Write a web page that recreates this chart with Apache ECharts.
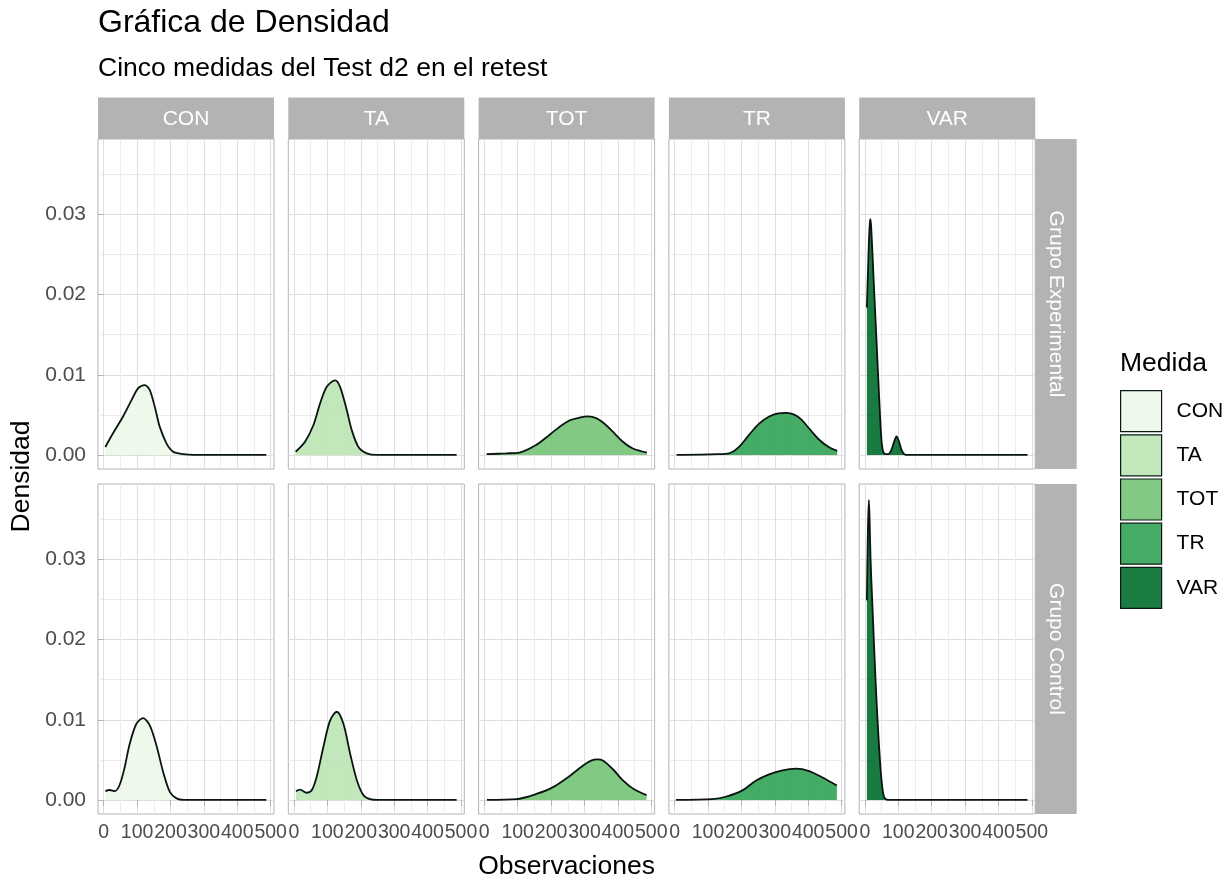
<!DOCTYPE html>
<html>
<head>
<meta charset="utf-8">
<script src="https://cdn.jsdelivr.net/npm/echarts@6/dist/echarts.min.js"></script>
<style>
  html, body { margin: 0; padding: 0; background: #ffffff; }
  #chart { width: 1226px; height: 882px; }
</style>
</head>
<body>
<div id="chart"></div>
<script>
// Facets
const medidas = ['CON', 'TA', 'TOT', 'TR', 'VAR'];
const grupos = ['Grupo Experimental', 'Grupo Control'];

// Axis breaks
const xTicks = [0, 100, 200, 300, 400, 500];
const xMinor = [50, 150, 250, 350, 450];
const yTicks = [0, 0.01, 0.02, 0.03];
const yMinor = [0.005, 0.015, 0.025, 0.035];

// Density estimates, [Observaciones, Densidad]
// Grupo Experimental
const expCON = [[5,0.0010],[28,0.0027],[58,0.0048],[83,0.0068],[103,0.0083],[123,0.0087],[138,0.0081],[153,0.0060],[168,0.0035],[188,0.00145],[208,0.0004],[238,0.0001],[270,0],[380,0],[487,0]];
const expTA  = [[5,0.0004],[33,0.00165],[58,0.0037],[78,0.0064],[98,0.0085],[123,0.0093],[138,0.0085],[158,0.0056],[173,0.0031],[193,0.0010],[218,0.0002],[248,0],[370,0],[487,0]];
const expTOT = [[7,0.0001],[65,0.0002],[105,0.0003],[155,0.00124],[195,0.0025],[225,0.0035],[255,0.0043],[285,0.00465],[310,0.0048],[335,0.0046],[360,0.0039],[385,0.0029],[415,0.00165],[445,0.0008],[487,0.0003]];
const expTR  = [[6,0],[128,0.0001],[163,0.0002],[193,0.0010],[223,0.0025],[253,0.0039],[283,0.0048],[310,0.0052],[335,0.00525],[360,0.0050],[380,0.0044],[403,0.0033],[433,0.0019],[463,0.00095],[487,0.0005]];
const expVAR = [[6,0.0184],[9,0.0225],[12,0.0265],[15,0.0290],[17,0.0294],[20,0.0275],[25,0.0230],[30,0.0185],[35,0.0141],[40,0.0096],[45,0.0052],[50,0.0017],[55,0.0004],[62,0.0001],[70,0.0001],[80,0.0007],[88,0.0017],[95,0.0023],[102,0.0017],[110,0.0006],[118,0.0001],[130,0],[300,0],[487,0]];
// Grupo Control
const ctlCON = [[5,0.0011],[18,0.00124],[33,0.0011],[48,0.0019],[63,0.0041],[78,0.0070],[98,0.0095],[118,0.0102],[138,0.0093],[158,0.0068],[178,0.0035],[198,0.0010],[218,0.0002],[240,0],[360,0],[487,0]];
const ctlTA  = [[6,0.0011],[18,0.0013],[38,0.0009],[53,0.0012],[68,0.0029],[88,0.0066],[108,0.0099],[128,0.0110],[148,0.0095],[168,0.0058],[188,0.0025],[208,0.0006],[228,0.0001],[250,0],[370,0],[487,0]];
const ctlTOT = [[8,0],[96,0.0001],[156,0.00075],[206,0.0016],[256,0.0030],[296,0.0043],[320,0.0049],[338,0.00505],[356,0.0049],[386,0.0038],[416,0.0024],[446,0.0014],[486,0.0006]];
const ctlTR  = [[4,0],[113,0.0001],[153,0.0004],[203,0.0012],[243,0.0024],[283,0.0032],[323,0.0037],[363,0.0039],[403,0.0036],[443,0.0028],[486,0.0018]];
const ctlVAR = [[6,0.0249],[9,0.0335],[12,0.0374],[14,0.0352],[17,0.0300],[22,0.0248],[27,0.0198],[32,0.0149],[38,0.0099],[45,0.0050],[50,0.0024],[55,0.0008],[60,0.0002],[70,0],[300,0],[487,0]];

const curves = [
  [expCON, expTA, expTOT, expTR, expVAR],
  [ctlCON, ctlTA, ctlTOT, ctlTR, ctlVAR]
];

// Greens palette (fill drawn at 0.9 opacity) and the same colours flattened on white for the keys
const fillColors = ['#EDF8E9', '#BAE4B3', '#74C476', '#31A354', '#006D2C'];
const keyColors  = ['#EFF9EB', '#C1E7BB', '#82CA84', '#46AC65', '#1A7C41'];

// Layout
const FONT = '"Liberation Sans", Arial, Helvetica, sans-serif';
const PANEL_W = 176, PANEL_H = 330;
const COL_LEFT = [98, 288.3, 478.6, 668.9, 859.2];
const ROW_TOP = [139, 484];
const STRIP = 41.5;
const X_RANGE = [-17, 510];
const Y_RANGE = [-0.00175, 0.0394];
const GREY70 = '#b3b3b3';

const grids = [], xAxes = [], yAxes = [], series = [], graphics = [];

grupos.forEach((grupo, r) => {
  medidas.forEach((medida, c) => {
    const g = r * medidas.length + c;
    grids.push({
      left: COL_LEFT[c], top: ROW_TOP[r], width: PANEL_W, height: PANEL_H,
      show: true, borderColor: GREY70, borderWidth: 1, backgroundColor: 'transparent'
    });
    // major breaks (ticks, labels, major grid)
    xAxes.push({
      type: 'value', gridIndex: g, min: X_RANGE[0], max: X_RANGE[1], position: 'bottom',
      axisLine: { show: false },
      axisTick: { show: r === 1, customValues: xTicks, length: 6, lineStyle: { color: GREY70, width: 1 } },
      axisLabel: { show: r === 1, customValues: xTicks, hideOverlap: false,
                   color: '#4d4d4d', fontSize: 19.5, fontFamily: FONT, margin: 9 },
      splitLine: { show: true, lineStyle: { color: '#dedede', width: 1 } }
    });
    // minor breaks (grid only)
    xAxes.push({
      type: 'value', gridIndex: g, min: X_RANGE[0], max: X_RANGE[1], position: 'bottom',
      axisLine: { show: false },
      axisTick: { show: false, customValues: xMinor },
      axisLabel: { show: false, customValues: xMinor },
      splitLine: { show: true, lineStyle: { color: '#ececec', width: 1 } }
    });
    yAxes.push({
      type: 'value', gridIndex: g, min: Y_RANGE[0], max: Y_RANGE[1], position: 'left',
      axisLine: { show: false },
      axisTick: { show: c === 0, customValues: yTicks, length: 6, lineStyle: { color: GREY70, width: 1 } },
      axisLabel: { show: c === 0, customValues: yTicks, hideOverlap: false,
                   color: '#4d4d4d', fontSize: 21, fontFamily: FONT, margin: 12,
                   formatter: v => v.toFixed(2) },
      splitLine: { show: true, lineStyle: { color: '#dedede', width: 1 } }
    });
    yAxes.push({
      type: 'value', gridIndex: g, min: Y_RANGE[0], max: Y_RANGE[1], position: 'left',
      axisLine: { show: false },
      axisTick: { show: false, customValues: yMinor },
      axisLabel: { show: false, customValues: yMinor },
      splitLine: { show: true, lineStyle: { color: '#ececec', width: 1 } }
    });
    series.push({
      type: 'line', name: medida,
      xAxisIndex: 2 * g, yAxisIndex: 2 * g,
      data: curves[r][c],
      smooth: 0.3, symbol: 'none', showSymbol: false, silent: true, z: 3,
      lineStyle: { color: '#0a1410', width: 1.8 },
      itemStyle: { color: keyColors[c] },
      areaStyle: { color: fillColors[c], opacity: 0.9 }
    });
  });
});

// Column strips
medidas.forEach((medida, c) => {
  graphics.push({
    type: 'rect', silent: true,
    shape: { x: COL_LEFT[c], y: ROW_TOP[0] - STRIP, width: PANEL_W, height: STRIP },
    style: { fill: GREY70 }
  });
  graphics.push({
    type: 'text', silent: true,
    style: { text: medida, x: COL_LEFT[c] + PANEL_W / 2, y: ROW_TOP[0] - STRIP / 2 + 1,
             align: 'center', verticalAlign: 'middle', fill: '#ffffff',
             font: '21px ' + FONT }
  });
});

// Row strips
const stripX = COL_LEFT[4] + PANEL_W;
grupos.forEach((grupo, r) => {
  graphics.push({
    type: 'rect', silent: true,
    shape: { x: stripX, y: ROW_TOP[r], width: STRIP, height: PANEL_H },
    style: { fill: GREY70 }
  });
  graphics.push({
    type: 'text', silent: true,
    x: stripX + STRIP / 2, y: ROW_TOP[r] + PANEL_H / 2, rotation: -Math.PI / 2,
    style: { text: grupo, x: 0, y: 0, align: 'center', verticalAlign: 'middle',
             fill: '#ffffff', font: '21px ' + FONT }
  });
});

// Titles
graphics.push({
  type: 'text', silent: true,
  style: { text: 'Gráfica de Densidad', x: 98, y: 23, align: 'left', verticalAlign: 'middle',
           fill: '#000000', font: '32px ' + FONT }
});
graphics.push({
  type: 'text', silent: true,
  style: { text: 'Cinco medidas del Test d2 en el retest', x: 98, y: 69, align: 'left', verticalAlign: 'middle',
           fill: '#000000', font: '26.5px ' + FONT }
});
graphics.push({
  type: 'text', silent: true,
  style: { text: 'Observaciones', x: (COL_LEFT[0] + COL_LEFT[4] + PANEL_W) / 2, y: 867,
           align: 'center', verticalAlign: 'middle', fill: '#000000', font: '26.5px ' + FONT }
});
graphics.push({
  type: 'text', silent: true,
  x: 22, y: (ROW_TOP[0] + ROW_TOP[1] + PANEL_H) / 2, rotation: Math.PI / 2,
  style: { text: 'Densidad', x: 0, y: 0, align: 'center', verticalAlign: 'middle',
           fill: '#000000', font: '26.5px ' + FONT }
});
// Legend title
graphics.push({
  type: 'text', silent: true,
  style: { text: 'Medida', x: 1120, y: 364, align: 'left', verticalAlign: 'middle',
           fill: '#000000', font: '26.5px ' + FONT }
});

const chart = echarts.init(document.getElementById('chart'), null, { renderer: 'canvas' });
chart.setOption({
  animation: false,
  backgroundColor: '#ffffff',
  grid: grids,
  xAxis: xAxes,
  yAxis: yAxes,
  series: series,
  legend: {
    orient: 'vertical', left: 1120, top: 390, padding: 0,
    itemWidth: 41, itemHeight: 41, itemGap: 2, icon: 'rect', selectedMode: false,
    itemStyle: { borderColor: '#0b1a14', borderWidth: 1.2 },
    textStyle: { fontSize: 21, color: '#000000', fontFamily: FONT, padding: [0, 0, 0, 10] },
    data: medidas.map((m, i) => ({ name: m, itemStyle: { color: keyColors[i] } }))
  },
  graphic: graphics
});
</script>
</body>
</html>
